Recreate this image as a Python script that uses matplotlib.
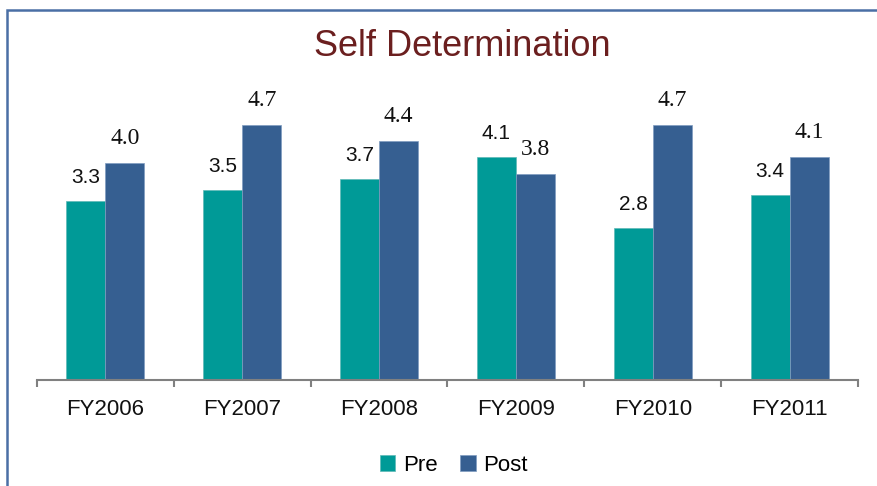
import matplotlib.pyplot as plt
from matplotlib.patches import Rectangle
import numpy as np

years = ["FY2006", "FY2007", "FY2008", "FY2009", "FY2010", "FY2011"]
pre = [3.3, 3.5, 3.7, 4.1, 2.8, 3.4]
post = [4.0, 4.7, 4.4, 3.8, 4.7, 4.1]

teal = "#009A97"
blue = "#365F91"
sans = ["Liberation Sans Narrow", "Liberation Sans", "DejaVu Sans"]
serif = ["Liberation Serif", "DejaVu Serif"]

fig = plt.figure(figsize=(8.78, 4.86), dpi=100)
ax = fig.add_axes([37 / 878, 1 - 380 / 486, 821 / 878, 271.5 / 486])

x = np.arange(len(years))
w = 0.285
b1 = ax.bar(x - w / 2, pre, w, color=teal, edgecolor="#5fb8b6", linewidth=0.5, label="Pre")
b2 = ax.bar(x + w / 2, post, w, color=blue, edgecolor="#7f9cc0", linewidth=0.5, label="Post")

for r, v in zip(b1, pre):
    ax.annotate(f"{v:.1f}", (r.get_x() + r.get_width() / 2, v), xytext=(0, 10),
                textcoords="offset points", ha="center", va="bottom",
                fontsize=15, family=sans, color="#111111")
for r, v in zip(b2, post):
    ax.annotate(f"{v:.1f}", (r.get_x() + r.get_width() / 2, v), xytext=(0, 10),
                textcoords="offset points", ha="center", va="bottom",
                fontsize=17, family=serif, color="#111111")

ax.set_xlim(-0.5, len(years) - 0.5)
ax.set_ylim(0, 5)
for s in ["top", "right", "left"]:
    ax.spines[s].set_visible(False)
ax.spines["bottom"].set_color("#808080")
ax.spines["bottom"].set_linewidth(1.5)
ax.set_yticks([])
ax.set_xticks(np.arange(-0.5, len(years)), labels=[])
ax.tick_params(axis="x", which="major", length=5, width=1.5, color="#808080")
ax.set_xticks(x, labels=years, minor=True)
ax.tick_params(axis="x", which="minor", length=0, pad=14)
for t in ax.get_xticklabels(minor=True):
    t.set_family(sans)
    t.set_fontsize(16)
    t.set_color("#111111")

fig.text(0.527, 1 - 46 / 486, "Self Determination", ha="center", va="center",
         fontsize=26, color="#6B1F1F", family=["Liberation Sans", "DejaVu Sans"])

fig.legend(handles=[b1, b2], loc="center", bbox_to_anchor=(0.517, 1 - 465 / 486),
           ncol=2, frameon=False, handlelength=0.7, handleheight=0.7,
           handletextpad=0.35, columnspacing=1.0, prop={"family": sans, "size": 16})

fig.patches.append(Rectangle((7 / 878, -0.1), 1.2, 1.1 - 10 / 486, transform=fig.transFigure,
                             fill=False, edgecolor="#4A6FA5", linewidth=1.8))

fig.savefig("out.png", dpi=100)
